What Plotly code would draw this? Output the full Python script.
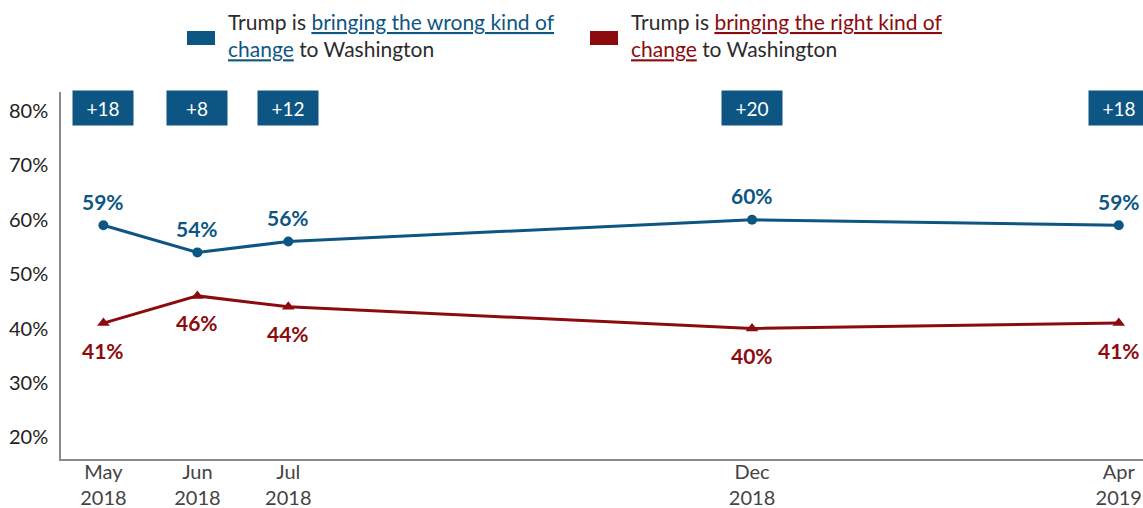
import plotly.graph_objects as go

# Survey waves and results
dates = ["2018-05-01", "2018-06-01", "2018-07-01", "2018-12-01", "2019-04-01"]
tick_labels = ["May<br>2018", "Jun<br>2018", "Jul<br>2018", "Dec<br>2018", "Apr<br>2019"]
wrong_change = [59, 54, 56, 60, 59]
right_change = [41, 46, 44, 40, 41]
y_ticks = [20, 30, 40, 50, 60, 70, 80]

BLUE = "#0d5683"
RED = "#8c0b0e"
FONT = "Lato"

W, H = 1143, 508
ML, MR, MT, MB = 61, 0, 92, 49
PW, PH = W - ML - MR, H - MT - MB


def px_x(x):
    return (x - ML) / PW


def px_y(y):
    return (H - MB - y) / PH


fig = go.Figure()
fig.add_trace(go.Scatter(
    x=dates, y=wrong_change, mode="lines+markers",
    line=dict(color=BLUE, width=3), marker=dict(symbol="circle", size=10, color=BLUE),
    showlegend=False, cliponaxis=False,
))
fig.add_trace(go.Scatter(
    x=dates, y=right_change, mode="lines+markers",
    line=dict(color=RED, width=3), marker=dict(symbol="triangle-up", size=11, color=RED),
    showlegend=False, cliponaxis=False,
))

annotations = []
for d, w, r in zip(dates, wrong_change, right_change):
    annotations.append(dict(x=d, y=w, text=f"<b>{w}%</b>", showarrow=False, yshift=24,
                            font=dict(family=FONT, size=21, color=BLUE)))
    annotations.append(dict(x=d, y=r, text=f"<b>{r}%</b>", showarrow=False, yshift=-27,
                            font=dict(family=FONT, size=21, color=RED)))
    # gap between the two series
    annotations.append(dict(x=d, y=80.5, text=f"+{w - r}", showarrow=False,
                            bgcolor=BLUE, width=52, height=26, borderpad=4,
                            font=dict(family=FONT, size=19, color="white")))

# Legend entries drawn as text with coloured keys
legend_items = [
    (226, 187, BLUE, "Trump is <span style='text-decoration:underline;color:%s'>bringing the wrong kind of</span><br><span style='text-decoration:underline;color:%s'>change</span> to Washington" % (BLUE, BLUE)),
    (629, 590, RED, "Trump is <span style='text-decoration:underline;color:%s'>bringing the right kind of</span><br><span style='text-decoration:underline;color:%s'>change</span> to Washington" % (RED, RED)),
]
shapes = []
for tx, kx, col, txt in legend_items:
    annotations.append(dict(xref="paper", yref="paper", x=px_x(tx), y=px_y(35),
                            xanchor="left", yanchor="middle", align="left", showarrow=False,
                            text=txt, font=dict(family=FONT, size=21, color="#2b2b2b")))
    shapes.append(dict(type="rect", xref="paper", yref="paper",
                       x0=px_x(kx), x1=px_x(kx + 28),
                       y0=px_y(45), y1=px_y(31),
                       fillcolor=col, line=dict(width=0)))

fig.update_layout(
    width=W, height=H,
    margin=dict(l=ML, r=MR, t=MT, b=MB),
    paper_bgcolor="white", plot_bgcolor="white",
    annotations=annotations, shapes=shapes,
    xaxis=dict(
        type="date", range=["2018-04-17", "2019-04-09"], automargin=False,
        tickvals=dates, ticktext=tick_labels, showgrid=False, zeroline=False,
        showline=True, linecolor="#8a8a8a", linewidth=1.5, ticks="", ticklabelstandoff=-6,
        tickfont=dict(family=FONT, size=20, color="#444444"),
    ),
    yaxis=dict(
        range=[16, 83.5], tickvals=y_ticks, ticktext=[f"{v}%" for v in y_ticks],
        automargin=False,
        showgrid=False, zeroline=False, showline=True, linecolor="#8a8a8a", linewidth=1.5,
        ticks="", ticklabelstandoff=7,
        tickfont=dict(family=FONT, size=20, color="#222222"),
    ),
)

fig.write_html("out.html")
